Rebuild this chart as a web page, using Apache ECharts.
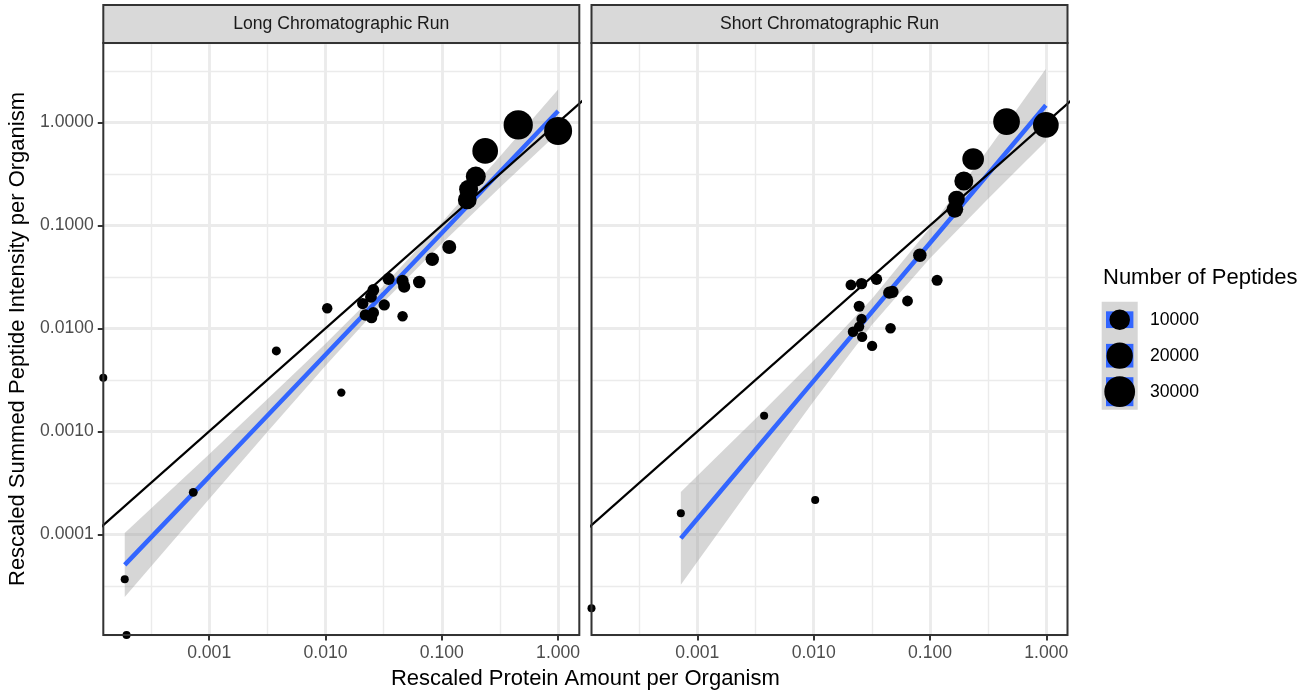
<!DOCTYPE html>
<html><head><meta charset="utf-8">
<script src="https://cdn.jsdelivr.net/npm/echarts@6/dist/echarts.min.js"></script>
<style>html,body{margin:0;padding:0;background:#fff}#c{width:1313px;height:696px}</style>
</head><body><div id="c"></div>
<script>
// ---------- data ----------
const panelTitles = ['Long Chromatographic Run', 'Short Chromatographic Run'];

// Long run: protein amount (x), summed peptide intensity (y), number of peptides (n)
const longX = [0.454, 1.00, 0.236, 0.196, 0.170, 0.1655, 0.1159, 0.0828, 0.064, 0.046, 0.0475, 0.0349, 0.0258, 0.0246, 0.0209, 0.032, 0.0220, 0.0258, 0.0249, 0.046, 0.01035, 0.00378, 0.01368, 0.00073, 0.000188, 0.000123, 0.000195];
const longY = [0.944, 0.825, 0.528, 0.298, 0.224, 0.1765, 0.0617, 0.0469, 0.0282, 0.0289, 0.0254, 0.0302, 0.0236, 0.0202, 0.0174, 0.0169, 0.0135, 0.0142, 0.0127, 0.0131, 0.01567, 0.00604, 0.00238, 0.000256, 0.0000366, 0.00332, 0.00001055];
const longN = [26500, 23600, 18800, 9200, 7900, 7600, 2800, 2400, 1800, 1600, 1600, 1600, 1400, 1400, 1150, 1150, 1150, 1150, 1150, 750, 750, 300, 150, 250, 100, 100, 100];

// Short run
const shortX = [0.455, 0.991, 0.235, 0.1954, 0.169, 0.1637, 0.0818, 0.1151, 0.0347, 0.0258, 0.0209, 0.0446, 0.0476, 0.0641, 0.0246, 0.0258, 0.0246, 0.0218, 0.0261, 0.0458, 0.0318, 0.00375, 0.0103, 0.000721, 0.000123];
const shortY = [1.016, 0.944, 0.441, 0.270, 0.1804, 0.1433, 0.0513, 0.0293, 0.0300, 0.0272, 0.0264, 0.0222, 0.0226, 0.01845, 0.0164, 0.01234, 0.0104, 0.00929, 0.00826, 0.01002, 0.00675, 0.00142, 0.000216, 0.000160, 0.0000192];
const shortN = [20800, 18800, 11700, 7900, 5200, 5200, 2400, 1000, 1150, 1150, 900, 1600, 1600, 900, 1000, 700, 700, 800, 700, 800, 700, 100, 100, 100, 100];

// Linear fit (log-log) with confidence band
const longFitX  = [0.000188, 0.001, 0.00316, 0.01, 0.0316, 0.1, 0.316, 1.0];
const longFitY  = [5.05e-5, 3.64e-4, 1.42e-3, 5.55e-3, 0.0216, 0.0843, 0.330, 1.29];
const longFitLo = [2.47e-5, 2.20e-4, 9.87e-4, 4.34e-3, 0.0180, 0.0668, 0.233, 0.794];
const longFitHi = [1.03e-4, 6.01e-4, 2.05e-3, 7.10e-3, 0.0260, 0.1064, 0.467, 2.09];

const shortFitX  = [0.000721, 0.001, 0.00316, 0.01, 0.0316, 0.1, 0.316, 0.99];
const shortFitY  = [9.15e-5, 1.417e-4, 6.62e-4, 3.09e-3, 0.01442, 0.0674, 0.315, 1.469];
const shortFitLo = [3.25e-5, 5.43e-5, 3.30e-4, 1.963e-3, 0.01081, 0.0480, 0.1813, 0.656];
const shortFitHi = [2.58e-4, 3.70e-4, 1.329e-3, 4.87e-3, 0.01924, 0.0947, 0.5465, 3.29];

// identity line y = x
const identityRange = [1e-6, 100];

const xTickValues = [0.001, 0.01, 0.1, 1];
const xTickLabels = ['0.001', '0.010', '0.100', '1.000'];
const yTickValues = [0.0001, 0.001, 0.01, 0.1, 1];
const yTickLabels = ['0.0001', '0.0010', '0.0100', '0.1000', '1.0000'];
const xLimits = [1.23e-4, 1.521];
const yLimits = [1.054e-5, 5.90];

const legendTitle = 'Number of Peptides';
const legendBreaks = [10000, 20000, 30000];
const legendLabels = ['10000', '20000', '30000'];

const xTitle = 'Rescaled Protein Amount per Organism';
const yTitle = 'Rescaled Summed Peptide Intensity per Organism';

// ---------- helpers ----------
const lg = v => Math.round(Math.log10(v) * 1e6) / 1e6;
const FONT = '"Liberation Sans", Arial, Helvetica, sans-serif';
const sizeFn = n => 1.75 * (3.79 + 14.225 * Math.sqrt(n / 32000));

const xMin = lg(xLimits[0]), xMax = lg(xLimits[1]);
const yMin = lg(yLimits[0]), yMax = lg(yLimits[1]);
const xTickLog = xTickValues.map(lg);
const yTickLog = yTickValues.map(lg);
const xFmt = v => { const i = xTickLog.findIndex(t => Math.abs(t - v) < 1e-6); return i < 0 ? '' : xTickLabels[i]; };
const yFmt = v => { const i = yTickLog.findIndex(t => Math.abs(t - v) < 1e-6); return i < 0 ? '' : yTickLabels[i]; };

const GRID_TOP = 43, GRID_H = 592, GRID_W = 476;
const gridLefts = [103.3, 591.5];

const grids = gridLefts.map(l => ({
  left: l, top: GRID_TOP, width: GRID_W, height: GRID_H,
  show: false, containLabel: false
}));

const xAxes = [], yAxes = [];
[0, 1].forEach(i => {
  xAxes.push({
    type: 'value', gridIndex: i, min: xMin, max: xMax, minInterval: 1, maxInterval: 1, position: 'bottom',
    axisLine: { show: false, onZero: false },
    axisTick: { show: true, length: 5.5, lineStyle: { color: '#333333', width: 2 }, customValues: xTickLog },
    axisLabel: { show: true, customValues: xTickLog, formatter: xFmt, color: '#4D4D4D', fontSize: 17.6, fontFamily: FONT, margin: 9.5 },
    splitLine: { show: true, lineStyle: { color: '#EBEBEB', width: 2.8 } }
  });
  xAxes.push({
    type: 'value', gridIndex: i, min: xMin, max: xMax, minInterval: 0.5, maxInterval: 0.5, position: 'top',
    axisLine: { show: false, onZero: false }, axisTick: { show: false }, axisLabel: { show: false },
    splitLine: { show: true, lineStyle: { color: '#EBEBEB', width: 1.4 } }
  });
  yAxes.push({
    type: 'value', gridIndex: i, min: yMin, max: yMax, minInterval: 1, maxInterval: 1, position: 'left',
    axisLine: { show: false, onZero: false },
    axisTick: { show: i === 0, length: 5.5, lineStyle: { color: '#333333', width: 2 }, customValues: yTickLog },
    axisLabel: { show: i === 0, customValues: yTickLog, formatter: yFmt, color: '#4D4D4D', fontSize: 17.6, fontFamily: FONT, margin: 9.5 },
    splitLine: { show: true, lineStyle: { color: '#EBEBEB', width: 2.8 } }
  });
  yAxes.push({
    type: 'value', gridIndex: i, min: yMin, max: yMax, minInterval: 0.5, maxInterval: 0.5, position: 'right',
    axisLine: { show: false, onZero: false }, axisTick: { show: false }, axisLabel: { show: false },
    splitLine: { show: true, lineStyle: { color: '#EBEBEB', width: 1.4 } }
  });
});

const panels = [
  { X: longX, Y: longY, N: longN, fx: longFitX, fy: longFitY, lo: longFitLo, hi: longFitHi },
  { X: shortX, Y: shortY, N: shortN, fx: shortFitX, fy: shortFitY, lo: shortFitLo, hi: shortFitHi }
];

const series = [];
panels.forEach((p, i) => {
  const ax = 2 * i;
  series.push({
    type: 'custom', xAxisIndex: ax, yAxisIndex: ax, silent: true, z: 2, clip: true,
    data: [[lg(p.fx[0]), lg(p.fy[0])]],
    renderItem: (params, api) => {
      const pts = [];
      for (let k = 0; k < p.fx.length; k++) pts.push(api.coord([lg(p.fx[k]), lg(p.hi[k])]));
      for (let k = p.fx.length - 1; k >= 0; k--) pts.push(api.coord([lg(p.fx[k]), lg(p.lo[k])]));
      return { type: 'polygon', shape: { points: pts }, style: { fill: 'rgba(153,153,153,0.4)', stroke: null } };
    }
  });
  series.push({
    type: 'line', xAxisIndex: ax, yAxisIndex: ax, silent: true, z: 3, symbol: 'none', clip: true,
    data: p.fx.map((x, k) => [lg(x), lg(p.fy[k])]),
    lineStyle: { color: '#3366FF', width: 4.5 }
  });
  series.push({
    type: 'scatter', xAxisIndex: ax, yAxisIndex: ax, z: 4, clip: true, silent: true,
    data: p.X.map((x, k) => [lg(x), lg(p.Y[k]), p.N[k]]),
    symbol: 'circle', symbolSize: d => sizeFn(d[2]),
    itemStyle: { color: '#000000', opacity: 1 }
  });
  series.push({
    type: 'line', xAxisIndex: ax, yAxisIndex: ax, silent: true, z: 5, symbol: 'none', clip: true,
    data: identityRange.map(v => [lg(v), lg(v)]),
    lineStyle: { color: '#000000', width: 2.2 }
  });
});

// ---------- graphics: panel borders, strips, titles, legend ----------
const graphic = [];
gridLefts.forEach((l, i) => {
  graphic.push({ type: 'rect', z: 100, silent: true, shape: { x: l, y: GRID_TOP, width: GRID_W, height: GRID_H },
    style: { fill: null, stroke: '#333333', lineWidth: 2 } });
  graphic.push({ type: 'rect', z: 100, shape: { x: l, y: 5, width: GRID_W, height: GRID_TOP - 5 },
    style: { fill: '#D9D9D9', stroke: '#333333', lineWidth: 2 } });
  graphic.push({ type: 'text', z: 101, x: l + GRID_W / 2, y: (5 + GRID_TOP) / 2,
    style: { text: panelTitles[i], fill: '#1A1A1A', fontSize: 17.6, fontFamily: FONT,
      textAlign: 'center', textVerticalAlign: 'middle', align: 'center', verticalAlign: 'middle' } });
});
graphic.push({ type: 'text', x: (gridLefts[0] + gridLefts[1] + GRID_W) / 2, y: 679,
  style: { text: xTitle, fill: '#000000', fontSize: 22, fontFamily: FONT,
    textAlign: 'center', textVerticalAlign: 'middle', align: 'center', verticalAlign: 'middle' } });
graphic.push({ type: 'text', x: 18, y: GRID_TOP + GRID_H / 2, rotation: Math.PI / 2,
  style: { text: yTitle, fill: '#000000', fontSize: 22, fontFamily: FONT,
    textAlign: 'center', textVerticalAlign: 'middle', align: 'center', verticalAlign: 'middle' } });

// legend
const LX = 1101.7, LY = 301.7, KEY = 36;
graphic.push({ type: 'text', x: 1103, y: 278,
  style: { text: legendTitle, fill: '#000000', fontSize: 22, fontFamily: FONT,
    textAlign: 'left', textVerticalAlign: 'middle', align: 'left', verticalAlign: 'middle' } });
graphic.push({ type: 'rect', shape: { x: LX, y: LY, width: KEY, height: KEY * legendBreaks.length },
  style: { fill: 'rgba(153,153,153,0.4)' } });
legendBreaks.forEach((b, k) => {
  const cy = LY + KEY * k + KEY / 2;
  const d = sizeFn(b);
  const bh = 1.2 * d - 7.9;
  graphic.push({ type: 'rect', shape: { x: LX + 4.3, y: cy - bh / 2, width: KEY - 8.6, height: bh },
    style: { fill: '#3366FF' } });
  graphic.push({ type: 'circle', shape: { cx: LX + KEY / 2, cy: cy, r: d / 2 }, style: { fill: '#000000' } });
  graphic.push({ type: 'text', x: 1150, y: cy,
    style: { text: legendLabels[k], fill: '#000000', fontSize: 17.6, fontFamily: FONT,
      textAlign: 'left', textVerticalAlign: 'middle', align: 'left', verticalAlign: 'middle' } });
});

const chart = echarts.init(document.getElementById('c'), null, { renderer: 'canvas' });
chart.setOption({
  animation: false,
  backgroundColor: '#ffffff',
  grid: grids,
  xAxis: xAxes,
  yAxis: yAxes,
  series: series,
  graphic: graphic
});
</script>
</body></html>
